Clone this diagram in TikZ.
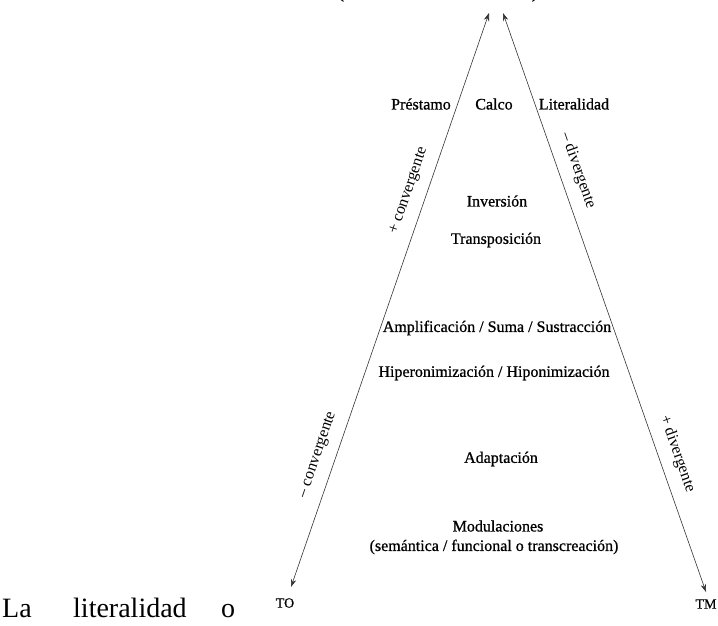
\documentclass[tikz,border=0pt]{standalone}
\usepackage{fontspec}
\setmainfont{Liberation Serif}
\newfontfamily\dfont{Liberation Serif}[BoldFont=Liberation Serif, BoldFeatures={FakeBold=0.8}]
\usetikzlibrary{arrows.meta}
\begin{document}
\begin{tikzpicture}[x=1pt,y=-1pt,
  axis/.style={draw=black!80, line width=0.6pt, {Stealth[length=8pt,width=5.5pt]}-{Stealth[length=8pt,width=5.5pt]}},
  lbl/.style={font=\dfont\bfseries\fontsize{16}{18}\selectfont, inner sep=0pt},
  side/.style={font=\dfont\fontsize{16}{18}\selectfont, inner sep=0pt, sloped},
  small/.style={font=\dfont\bfseries\fontsize{14}{16}\selectfont, inner sep=0pt},
  body/.style={font=\fontsize{28}{30}\selectfont, inner sep=0pt, anchor=base west}]
\useasboundingbox (0,0) rectangle (718,625);
\clip (0,0) rectangle (718,625);
% cut-off line at the top
\node[body, anchor=base] (p1) at (340,-4) {(};
\node[body, anchor=base] (p2) at (411,-7) {,};
\node[body, anchor=base] (p3) at (536,-4) {)};
% ends
\coordinate (LT) at (489,13);
\coordinate (LB) at (291,587);
\coordinate (RT) at (503,13);
\coordinate (RB) at (706,592);
\draw[axis] (LB) -- node[side, pos=0.22, above=11pt] (mc) {– convergente}
                    node[side, pos=0.68, above=11pt] (pc) {+ convergente} (LT);
\draw[axis] (RT) -- node[side, pos=0.283, above=11pt] (md) {– divergente}
                    node[side, pos=0.772, above=11pt] (pd) {+ divergente} (RB);
% labels
\node[lbl] (prest) at (421,104) {Préstamo};
\node[lbl] (calco) at (494,104) {Calco};
\node[lbl] (lit) at (574,104) {Literalidad};
\node[lbl] (inv) at (497,201) {Inversión};
\node[lbl] (trans) at (496,240) {Transposición};
\node[lbl] (ampl) at (497,328) {Amplificación / Suma / Sustracción};
\node[lbl] (hiper) at (494,373) {Hiperonimización / Hiponimización};
\node[lbl] (adap) at (501,459) {Adaptación};
\node[lbl] (mod) at (498,526) {Modulaciones};
\node[lbl] (sem) at (494,547) {(semántica / funcional o transcreación)};
\node[small] (to) at (285,603) {TO};
\node[small] (tm) at (706,604) {TM};
% body text line
\node[body] (la) at (2,617) {La};
\node[body] (literal) at (73,617) {literalidad};
\node[body] (o) at (221,617) {o};
\end{tikzpicture}
\end{document}
